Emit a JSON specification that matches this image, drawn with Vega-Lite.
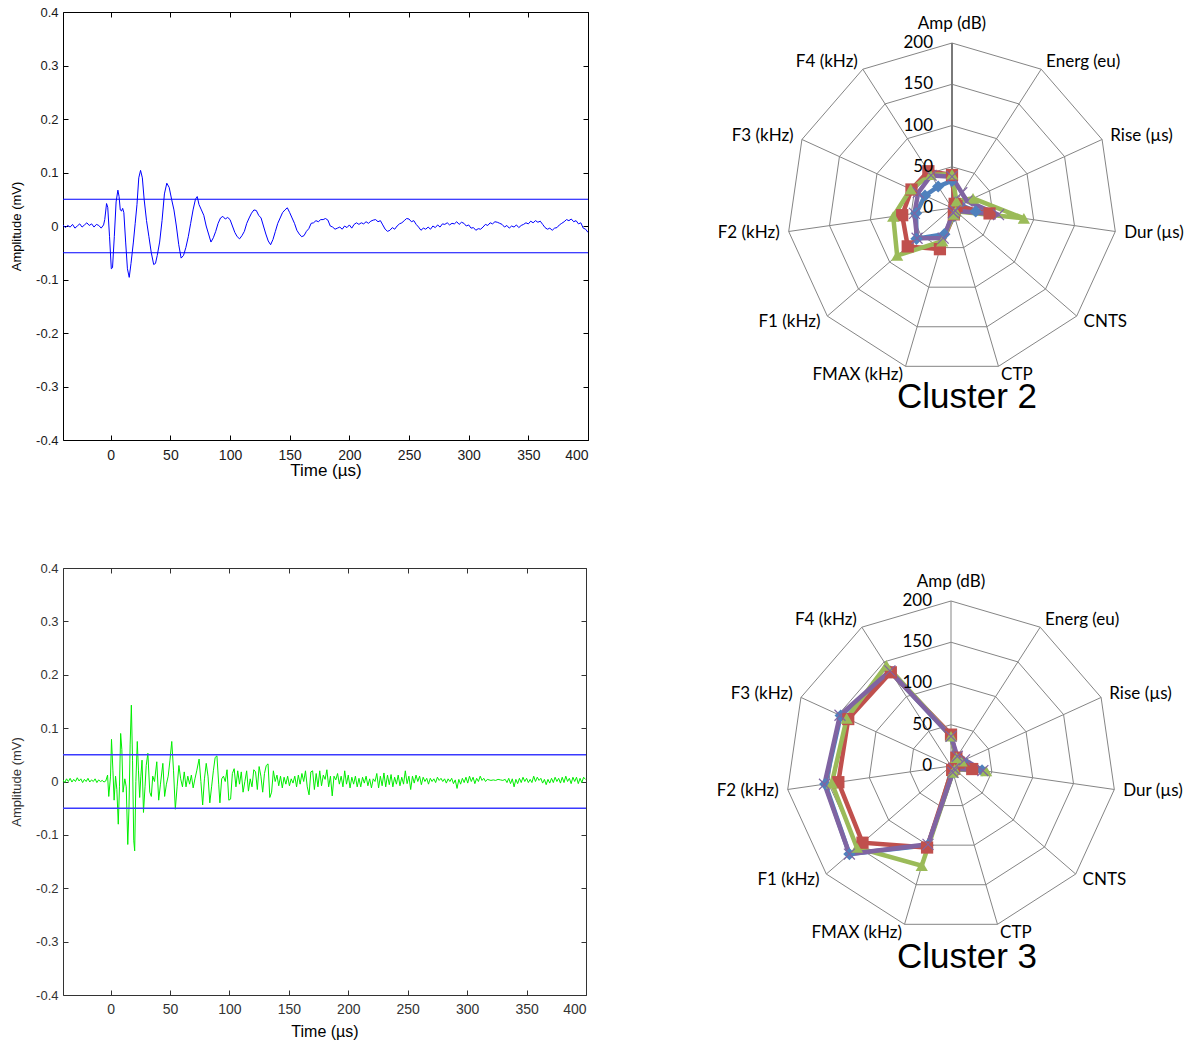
{
  "$schema": "https://vega.github.io/schema/vega-lite/v6.json",
  "background": "white",
  "padding": {"left": 10, "top": 6, "right": 2, "bottom": 2},
  "bounds": "full",
  "spacing": 84,
  "config": {"view": {"stroke": null}, "font": "Liberation Sans"},
  "datasets": {
    "w2": [
      {"t":-40,"a":0.002},{"t":-38,"a":-0.003},{"t":-36,"a":0.001},{"t":-34,"a":-0.002},{"t":-32,"a":0.003},{"t":-30,"a":-0.004},{"t":-28,"a":0.0},{"t":-26,"a":0.004},{"t":-24,"a":-0.002},{"t":-22,"a":0.002},{"t":-20,"a":0.006},{"t":-18,"a":0.001},{"t":-16,"a":0.004},{"t":-14,"a":-0.002},{"t":-12,"a":0.003},{"t":-10,"a":0.001},{"t":-8,"a":-0.004},{"t":-6,"a":0.002},{"t":-5,"a":0.012},{"t":-3.5,"a":0.042},{"t":-2.5,"a":0.035},{"t":-1,"a":-0.02},{"t":0.5,"a":-0.08},{"t":1.5,"a":-0.078},{"t":3,"a":-0.02},{"t":4.5,"a":0.045},{"t":6,"a":0.067},{"t":7,"a":0.055},{"t":8,"a":0.03},{"t":9,"a":0.028},{"t":10,"a":0.033},{"t":11,"a":0.025},{"t":12.5,"a":-0.03},{"t":14,"a":-0.08},{"t":15.5,"a":-0.096},{"t":17,"a":-0.07},{"t":19,"a":-0.03},{"t":20.5,"a":0.005},{"t":22,"a":0.04},{"t":23.5,"a":0.09},{"t":25,"a":0.104},{"t":26.5,"a":0.09},{"t":28,"a":0.05},{"t":30,"a":0.01},{"t":32,"a":-0.02},{"t":34,"a":-0.05},{"t":36,"a":-0.072},{"t":37.5,"a":-0.07},{"t":39,"a":-0.055},{"t":41,"a":-0.03},{"t":43,"a":0.01},{"t":45,"a":0.06},{"t":47,"a":0.08},{"t":49,"a":0.072},{"t":51,"a":0.05},{"t":53,"a":0.03},{"t":55,"a":0.0},{"t":57,"a":-0.035},{"t":59,"a":-0.06},{"t":61,"a":-0.055},{"t":63,"a":-0.04},{"t":65,"a":-0.02},{"t":67,"a":0.005},{"t":69,"a":0.03},{"t":71,"a":0.05},{"t":72.5,"a":0.055},{"t":74,"a":0.04},{"t":76,"a":0.03},{"t":78,"a":0.02},{"t":80,"a":0.0},{"t":82,"a":-0.015},{"t":84,"a":-0.03},{"t":86,"a":-0.022},{"t":88,"a":-0.01},{"t":90,"a":0.005},{"t":92,"a":0.015},{"t":94,"a":0.018},{"t":96,"a":0.013},{"t":98,"a":0.016},{"t":100,"a":0.012},{"t":102,"a":0.0},{"t":104,"a":-0.012},{"t":106,"a":-0.02},{"t":108,"a":-0.024},{"t":110,"a":-0.018},{"t":112,"a":-0.01},{"t":114,"a":0.005},{"t":116,"a":0.015},{"t":118,"a":0.024},{"t":120,"a":0.03},{"t":122,"a":0.029},{"t":124,"a":0.02},{"t":126,"a":0.015},{"t":128,"a":0.0},{"t":130,"a":-0.015},{"t":132,"a":-0.028},{"t":134,"a":-0.035},{"t":136,"a":-0.025},{"t":138,"a":-0.01},{"t":140,"a":0.005},{"t":142,"a":0.015},{"t":144,"a":0.025},{"t":146,"a":0.03},{"t":148,"a":0.034},{"t":150,"a":0.025},{"t":152,"a":0.015},{"t":154,"a":0.005},{"t":156,"a":-0.008},{"t":158,"a":-0.015},{"t":160,"a":-0.02},{"t":162,"a":-0.018},{"t":164,"a":-0.01},{"t":166,"a":-0.005},{"t":168,"a":0.005},{"t":170,"a":0.006},{"t":172,"a":0.01},{"t":174,"a":0.008},{"t":176,"a":0.012},{"t":178,"a":0.012},{"t":180,"a":0.014},{"t":182,"a":0.011},{"t":184,"a":0.0},{"t":186,"a":-0.002},{"t":188,"a":-0.006},{"t":190,"a":-0.004},{"t":192,"a":-0.002},{"t":194,"a":-0.006},{"t":196,"a":0.0},{"t":198,"a":-0.003},{"t":200,"a":0.002},{"t":202,"a":-0.004},{"t":204,"a":0.003},{"t":206,"a":0.006},{"t":208,"a":0.003},{"t":210,"a":0.006},{"t":212,"a":0.004},{"t":214,"a":0.008},{"t":216,"a":0.005},{"t":218,"a":0.009},{"t":220,"a":0.011},{"t":222,"a":0.012},{"t":224,"a":0.008},{"t":226,"a":0.01},{"t":228,"a":0.002},{"t":230,"a":-0.006},{"t":232,"a":-0.01},{"t":234,"a":-0.008},{"t":236,"a":-0.003},{"t":238,"a":-0.006},{"t":240,"a":0.0},{"t":242,"a":0.004},{"t":244,"a":0.006},{"t":246,"a":0.01},{"t":248,"a":0.014},{"t":250,"a":0.013},{"t":252,"a":0.008},{"t":254,"a":0.01},{"t":256,"a":0.003},{"t":258,"a":-0.002},{"t":260,"a":-0.008},{"t":262,"a":-0.004},{"t":264,"a":-0.006},{"t":266,"a":-0.002},{"t":268,"a":-0.006},{"t":270,"a":0.0},{"t":272,"a":-0.003},{"t":274,"a":0.002},{"t":276,"a":-0.002},{"t":278,"a":0.004},{"t":280,"a":0.003},{"t":282,"a":0.006},{"t":284,"a":0.002},{"t":286,"a":0.005},{"t":288,"a":0.004},{"t":290,"a":0.008},{"t":292,"a":0.003},{"t":294,"a":0.007},{"t":296,"a":0.005},{"t":298,"a":0.0},{"t":300,"a":0.002},{"t":302,"a":-0.004},{"t":304,"a":-0.003},{"t":306,"a":-0.008},{"t":308,"a":-0.005},{"t":310,"a":-0.006},{"t":312,"a":-0.002},{"t":314,"a":0.003},{"t":316,"a":0.001},{"t":318,"a":0.006},{"t":320,"a":0.004},{"t":322,"a":0.008},{"t":324,"a":0.007},{"t":326,"a":0.005},{"t":328,"a":0.003},{"t":330,"a":-0.002},{"t":332,"a":0.001},{"t":334,"a":-0.004},{"t":336,"a":0.0},{"t":338,"a":-0.002},{"t":340,"a":0.002},{"t":342,"a":-0.003},{"t":344,"a":0.001},{"t":346,"a":0.003},{"t":348,"a":0.006},{"t":350,"a":0.004},{"t":352,"a":0.009},{"t":354,"a":0.006},{"t":356,"a":0.01},{"t":358,"a":0.007},{"t":360,"a":0.009},{"t":362,"a":0.003},{"t":364,"a":-0.003},{"t":366,"a":-0.006},{"t":368,"a":-0.004},{"t":370,"a":-0.008},{"t":372,"a":-0.004},{"t":374,"a":-0.003},{"t":376,"a":0.002},{"t":378,"a":0.005},{"t":380,"a":0.008},{"t":382,"a":0.012},{"t":384,"a":0.01},{"t":386,"a":0.013},{"t":388,"a":0.008},{"t":390,"a":0.01},{"t":392,"a":0.004},{"t":394,"a":0.006},{"t":396,"a":-0.004},{"t":398,"a":-0.006},{"t":400,"a":-0.012}
    ],
    "w3": [
      {"t":-40,"a":0.003},{"t":-38.5,"a":-0.002},{"t":-37,"a":0.005},{"t":-35.5,"a":0.0},{"t":-34,"a":0.006},{"t":-32.5,"a":-0.001},{"t":-31,"a":0.004},{"t":-29.5,"a":0.0},{"t":-28,"a":0.007},{"t":-26.5,"a":0.001},{"t":-25,"a":0.005},{"t":-23.5,"a":-0.002},{"t":-22,"a":0.004},{"t":-20.5,"a":0.0},{"t":-19,"a":0.006},{"t":-17.5,"a":-0.001},{"t":-16,"a":0.003},{"t":-14.5,"a":0.0},{"t":-13,"a":0.005},{"t":-11.5,"a":-0.002},{"t":-10,"a":0.003},{"t":-8.5,"a":0.0},{"t":-7,"a":0.002},{"t":-5.5,"a":-0.001},{"t":-4,"a":0.001},{"t":-2.5,"a":0.012},{"t":-1.5,"a":-0.028},{"t":0,"a":0.01},{"t":0.8,"a":0.079},{"t":2,"a":0.02},{"t":3,"a":-0.035},{"t":4.2,"a":0.01},{"t":5.3,"a":-0.015},{"t":6.5,"a":-0.08},{"t":7.5,"a":-0.01},{"t":8.5,"a":0.09},{"t":9.5,"a":0.06},{"t":10.5,"a":-0.02},{"t":12,"a":0.005},{"t":13.2,"a":-0.01},{"t":14.5,"a":-0.118},{"t":15.5,"a":-0.05},{"t":16.5,"a":0.07},{"t":17.5,"a":0.143},{"t":18.5,"a":0.04},{"t":19.5,"a":-0.11},{"t":20.3,"a":-0.13},{"t":21.3,"a":0.0},{"t":22.5,"a":0.075},{"t":23.5,"a":0.02},{"t":24.5,"a":-0.03},{"t":25.5,"a":0.01},{"t":26.5,"a":0.04},{"t":27.7,"a":-0.058},{"t":29,"a":-0.01},{"t":30,"a":0.03},{"t":31.4,"a":0.053},{"t":33,"a":-0.02},{"t":34.3,"a":-0.028},{"t":35.5,"a":0.01},{"t":37,"a":0.0},{"t":38.9,"a":0.037},{"t":40.5,"a":-0.035},{"t":42,"a":-0.005},{"t":44,"a":0.034},{"t":45.5,"a":-0.028},{"t":47,"a":-0.005},{"t":48.5,"a":0.01},{"t":50,"a":0.04},{"t":51.5,"a":0.075},{"t":53,"a":0.02},{"t":54.5,"a":-0.052},{"t":56,"a":-0.01},{"t":57.5,"a":0.03},{"t":59,"a":0.005},{"t":60.5,"a":-0.01},{"t":62,"a":0.018},{"t":63.5,"a":-0.01},{"t":65,"a":0.01},{"t":66.5,"a":-0.005},{"t":68,"a":0.012},{"t":69.5,"a":-0.012},{"t":71,"a":0.005},{"t":72.5,"a":0.02},{"t":74.5,"a":0.042},{"t":76,"a":0.0},{"t":77.5,"a":-0.044},{"t":79,"a":0.005},{"t":80.5,"a":0.034},{"t":82,"a":0.01},{"t":83.5,"a":-0.04},{"t":85,"a":-0.01},{"t":86.5,"a":0.02},{"t":88,"a":0.045},{"t":89.5,"a":0.048},{"t":91,"a":-0.005},{"t":92,"a":-0.04},{"t":93.5,"a":0.005},{"t":95,"a":0.01},{"t":96.5,"a":0.0},{"t":98,"a":0.022},{"t":99.5,"a":-0.035},{"t":101,"a":-0.033},{"t":102.5,"a":0.015},{"t":104,"a":0.024},{"t":105.5,"a":-0.01},{"t":107,"a":0.02},{"t":108.5,"a":-0.005},{"t":110,"a":0.018},{"t":111.5,"a":-0.02},{"t":113,"a":0.0},{"t":114.5,"a":0.02},{"t":116,"a":-0.018},{"t":117.5,"a":0.005},{"t":119,"a":-0.01},{"t":120.5,"a":0.022},{"t":122,"a":0.018},{"t":123.5,"a":-0.015},{"t":125,"a":0.028},{"t":126.5,"a":0.01},{"t":128,"a":-0.02},{"t":129.5,"a":0.015},{"t":131,"a":0.03},{"t":132.5,"a":0.033},{"t":134,"a":-0.03},{"t":135.5,"a":-0.02},{"t":137,"a":0.02},{"t":138.5,"a":0.0},{"t":140,"a":0.012},{"t":141.5,"a":-0.008},{"t":143,"a":0.01},{"t":144.5,"a":-0.012},{"t":146,"a":0.008},{"t":147.5,"a":-0.005},{"t":149,"a":0.01},{"t":150.5,"a":-0.008},{"t":152,"a":0.005},{"t":153.5,"a":-0.003},{"t":155,"a":0.01},{"t":156.5,"a":-0.01},{"t":158,"a":0.012},{"t":159.5,"a":-0.005},{"t":161,"a":0.015},{"t":162.5,"a":0.0},{"t":164,"a":0.02},{"t":165.5,"a":-0.01},{"t":167,"a":-0.025},{"t":168.5,"a":0.018},{"t":170,"a":0.02},{"t":171.5,"a":-0.015},{"t":173,"a":0.015},{"t":174.5,"a":-0.01},{"t":176,"a":0.02},{"t":177.5,"a":-0.008},{"t":179,"a":0.012},{"t":180.5,"a":0.004},{"t":182,"a":0.022},{"t":183.5,"a":-0.01},{"t":185,"a":0.01},{"t":186.5,"a":-0.027},{"t":188,"a":0.01},{"t":189.5,"a":0.003},{"t":191,"a":0.015},{"t":192.5,"a":-0.005},{"t":194,"a":0.01},{"t":195.5,"a":-0.01},{"t":197,"a":0.02},{"t":198.5,"a":-0.005},{"t":200,"a":0.012},{"t":201.5,"a":-0.012},{"t":203,"a":0.008},{"t":204.5,"a":-0.005},{"t":206,"a":0.01},{"t":207.5,"a":-0.01},{"t":209,"a":0.006},{"t":210.5,"a":-0.01},{"t":212,"a":0.008},{"t":213.5,"a":-0.003},{"t":215,"a":0.01},{"t":216.5,"a":-0.008},{"t":218,"a":0.005},{"t":219.5,"a":-0.012},{"t":221,"a":0.005},{"t":222.5,"a":0.0},{"t":224,"a":0.015},{"t":225.5,"a":-0.012},{"t":227,"a":0.01},{"t":228.5,"a":-0.008},{"t":230,"a":0.016},{"t":231.5,"a":-0.01},{"t":233,"a":0.012},{"t":234.5,"a":-0.006},{"t":236,"a":0.013},{"t":237.5,"a":-0.01},{"t":239,"a":0.008},{"t":240.5,"a":-0.005},{"t":242,"a":0.012},{"t":243.5,"a":-0.008},{"t":245,"a":0.008},{"t":246.5,"a":-0.005},{"t":248,"a":0.02},{"t":249.5,"a":-0.004},{"t":251,"a":0.01},{"t":252.5,"a":-0.015},{"t":254,"a":0.01},{"t":255.5,"a":-0.003},{"t":257,"a":0.012},{"t":258.5,"a":0.0},{"t":260,"a":0.01},{"t":261.5,"a":-0.006},{"t":263,"a":0.008},{"t":264.5,"a":0.0},{"t":266,"a":0.006},{"t":267.5,"a":-0.005},{"t":269,"a":0.006},{"t":270.5,"a":0.0},{"t":272,"a":0.005},{"t":273.5,"a":-0.002},{"t":275,"a":0.008},{"t":276.5,"a":0.002},{"t":278,"a":0.006},{"t":279.5,"a":0.0},{"t":281,"a":0.005},{"t":282.5,"a":-0.003},{"t":284,"a":0.005},{"t":285.5,"a":0.0},{"t":287,"a":0.006},{"t":288.5,"a":-0.004},{"t":290,"a":0.003},{"t":291.5,"a":-0.013},{"t":293,"a":0.004},{"t":294.5,"a":-0.005},{"t":296,"a":0.006},{"t":297.5,"a":-0.002},{"t":299,"a":0.008},{"t":300.5,"a":-0.003},{"t":302,"a":0.01},{"t":303.5,"a":0.0},{"t":305,"a":0.008},{"t":306.5,"a":-0.004},{"t":308,"a":0.006},{"t":309.5,"a":0.0},{"t":311,"a":0.01},{"t":312.5,"a":0.002},{"t":314,"a":0.006},{"t":315.5,"a":0.0},{"t":317,"a":0.004},{"t":318.5,"a":0.003},{"t":320,"a":0.002},{"t":322,"a":0.003},{"t":324,"a":0.002},{"t":326,"a":0.004},{"t":328,"a":0.003},{"t":330,"a":0.002},{"t":332,"a":0.004},{"t":333.5,"a":-0.002},{"t":335,"a":0.006},{"t":336.5,"a":-0.004},{"t":338,"a":0.005},{"t":339.5,"a":-0.01},{"t":341,"a":0.004},{"t":342.5,"a":-0.004},{"t":344,"a":0.006},{"t":345.5,"a":-0.002},{"t":347,"a":0.008},{"t":348.5,"a":0.0},{"t":350,"a":0.006},{"t":351.5,"a":-0.002},{"t":353,"a":0.004},{"t":354.5,"a":-0.002},{"t":356,"a":0.01},{"t":357.5,"a":0.0},{"t":359,"a":0.008},{"t":360.5,"a":0.002},{"t":362,"a":0.006},{"t":363.5,"a":-0.003},{"t":365,"a":0.004},{"t":366.5,"a":-0.006},{"t":368,"a":0.004},{"t":369.5,"a":-0.003},{"t":371,"a":0.006},{"t":372.5,"a":-0.002},{"t":374,"a":0.008},{"t":375.5,"a":0.0},{"t":377,"a":0.006},{"t":378.5,"a":-0.003},{"t":380,"a":0.008},{"t":381.5,"a":-0.002},{"t":383,"a":0.01},{"t":384.5,"a":0.0},{"t":386,"a":0.006},{"t":387.5,"a":-0.004},{"t":389,"a":0.008},{"t":390.5,"a":0.0},{"t":392,"a":0.008},{"t":393.5,"a":-0.004},{"t":395,"a":0.006},{"t":396.5,"a":-0.002},{"t":398,"a":0.008},{"t":399.5,"a":0.004}
    ],
    "axes": [
      {"k":0,"name":"Amp (dB)"},{"k":1,"name":"Energ (eu)"},{"k":2,"name":"Rise (µs)"},{"k":3,"name":"Dur (µs)"},{"k":4,"name":"CNTS"},{"k":5,"name":"CTP"},{"k":6,"name":"FMAX (kHz)"},{"k":7,"name":"F1 (kHz)"},{"k":8,"name":"F2 (kHz)"},{"k":9,"name":"F3 (kHz)"},{"k":10,"name":"F4 (kHz)"}
    ],
    "rings": [
      {"ring":50,"k":0},{"ring":50,"k":1},{"ring":50,"k":2},{"ring":50,"k":3},{"ring":50,"k":4},{"ring":50,"k":5},{"ring":50,"k":6},{"ring":50,"k":7},{"ring":50,"k":8},{"ring":50,"k":9},{"ring":50,"k":10},
      {"ring":100,"k":0},{"ring":100,"k":1},{"ring":100,"k":2},{"ring":100,"k":3},{"ring":100,"k":4},{"ring":100,"k":5},{"ring":100,"k":6},{"ring":100,"k":7},{"ring":100,"k":8},{"ring":100,"k":9},{"ring":100,"k":10},
      {"ring":150,"k":0},{"ring":150,"k":1},{"ring":150,"k":2},{"ring":150,"k":3},{"ring":150,"k":4},{"ring":150,"k":5},{"ring":150,"k":6},{"ring":150,"k":7},{"ring":150,"k":8},{"ring":150,"k":9},{"ring":150,"k":10},
      {"ring":200,"k":0},{"ring":200,"k":1},{"ring":200,"k":2},{"ring":200,"k":3},{"ring":200,"k":4},{"ring":200,"k":5},{"ring":200,"k":6},{"ring":200,"k":7},{"ring":200,"k":8},{"ring":200,"k":9},{"ring":200,"k":10}
    ],
    "ticks": [{"v":0},{"v":50},{"v":100},{"v":150},{"v":200}],
    "radar": [
      {"c":2,"s":"S1","k":0,"v":33},{"c":2,"s":"S1","k":1,"v":8},{"c":2,"s":"S1","k":2,"v":10},{"c":2,"s":"S1","k":3,"v":29},{"c":2,"s":"S1","k":4,"v":5},{"c":2,"s":"S1","k":5,"v":10},{"c":2,"s":"S1","k":6,"v":33},{"c":2,"s":"S1","k":7,"v":57},{"c":2,"s":"S1","k":8,"v":44},{"c":2,"s":"S1","k":9,"v":36},{"c":2,"s":"S1","k":10,"v":31},
      {"c":2,"s":"S2","k":0,"v":40},{"c":2,"s":"S2","k":1,"v":6},{"c":2,"s":"S2","k":2,"v":6},{"c":2,"s":"S2","k":3,"v":46},{"c":2,"s":"S2","k":4,"v":4},{"c":2,"s":"S2","k":5,"v":8},{"c":2,"s":"S2","k":6,"v":52},{"c":2,"s":"S2","k":7,"v":71},{"c":2,"s":"S2","k":8,"v":61},{"c":2,"s":"S2","k":9,"v":54},{"c":2,"s":"S2","k":10,"v":53},
      {"c":2,"s":"S3","k":0,"v":41},{"c":2,"s":"S3","k":1,"v":10},{"c":2,"s":"S3","k":2,"v":28},{"c":2,"s":"S3","k":3,"v":88},{"c":2,"s":"S3","k":4,"v":6},{"c":2,"s":"S3","k":5,"v":8},{"c":2,"s":"S3","k":6,"v":42},{"c":2,"s":"S3","k":7,"v":88},{"c":2,"s":"S3","k":8,"v":72},{"c":2,"s":"S3","k":9,"v":55},{"c":2,"s":"S3","k":10,"v":48},
      {"c":2,"s":"S4","k":0,"v":38},{"c":2,"s":"S4","k":1,"v":22},{"c":2,"s":"S4","k":2,"v":20},{"c":2,"s":"S4","k":3,"v":57},{"c":2,"s":"S4","k":4,"v":5},{"c":2,"s":"S4","k":5,"v":6},{"c":2,"s":"S4","k":6,"v":38},{"c":2,"s":"S4","k":7,"v":56},{"c":2,"s":"S4","k":8,"v":46},{"c":2,"s":"S4","k":9,"v":45},{"c":2,"s":"S4","k":10,"v":47},
      {"c":3,"s":"S1","k":0,"v":36},{"c":3,"s":"S1","k":1,"v":12},{"c":3,"s":"S1","k":2,"v":15},{"c":3,"s":"S1","k":3,"v":38},{"c":3,"s":"S1","k":4,"v":5},{"c":3,"s":"S1","k":5,"v":8},{"c":3,"s":"S1","k":6,"v":100},{"c":3,"s":"S1","k":7,"v":163},{"c":3,"s":"S1","k":8,"v":154},{"c":3,"s":"S1","k":9,"v":147},{"c":3,"s":"S1","k":10,"v":136},
      {"c":3,"s":"S2","k":0,"v":38},{"c":3,"s":"S2","k":1,"v":12},{"c":3,"s":"S2","k":2,"v":10},{"c":3,"s":"S2","k":3,"v":26},{"c":3,"s":"S2","k":4,"v":5},{"c":3,"s":"S2","k":5,"v":5},{"c":3,"s":"S2","k":6,"v":103},{"c":3,"s":"S2","k":7,"v":142},{"c":3,"s":"S2","k":8,"v":138},{"c":3,"s":"S2","k":9,"v":137},{"c":3,"s":"S2","k":10,"v":135},
      {"c":3,"s":"S3","k":0,"v":36},{"c":3,"s":"S3","k":1,"v":12},{"c":3,"s":"S3","k":2,"v":14},{"c":3,"s":"S3","k":3,"v":43},{"c":3,"s":"S3","k":4,"v":6},{"c":3,"s":"S3","k":5,"v":8},{"c":3,"s":"S3","k":6,"v":126},{"c":3,"s":"S3","k":7,"v":151},{"c":3,"s":"S3","k":8,"v":146},{"c":3,"s":"S3","k":9,"v":139},{"c":3,"s":"S3","k":10,"v":145},
      {"c":3,"s":"S4","k":0,"v":36},{"c":3,"s":"S4","k":1,"v":14},{"c":3,"s":"S4","k":2,"v":18},{"c":3,"s":"S4","k":3,"v":39},{"c":3,"s":"S4","k":4,"v":5},{"c":3,"s":"S4","k":5,"v":8},{"c":3,"s":"S4","k":6,"v":99},{"c":3,"s":"S4","k":7,"v":163},{"c":3,"s":"S4","k":8,"v":155},{"c":3,"s":"S4","k":9,"v":148},{"c":3,"s":"S4","k":10,"v":137}
    ]
  },
  "vconcat": [
    {
      "bounds": "flush",
      "spacing": 111,
      "hconcat": [
        {
          "width": 525,
          "height": 428,
          "resolve": {"axis": {"x": "independent", "y": "independent"}},
          "layer": [
            {
              "data": {"name": "w2"},
              "mark": {"type": "line", "color": "#0000ff", "strokeWidth": 1, "clip": true},
              "encoding": {
                "x": {"field": "t", "type": "quantitative", "scale": {"domain": [-40, 400], "nice": false, "zero": false},
                  "axis": {"orient": "bottom", "values": [0,50,100,150,200,250,300,350,400], "format": "d", "grid": false, "tickSize": -5, "labelPadding": 13, "labelFontSize": 14, "labelColor": "#1a1a1a", "tickColor": "black", "domainColor": "black", "title": "Time (µs)", "titleFontSize": 17, "titleFontWeight": "normal", "titleColor": "black", "titlePadding": 0}},
                "y": {"field": "a", "type": "quantitative", "scale": {"domain": [-0.4, 0.4], "nice": false, "zero": false},
                  "axis": {"orient": "left", "values": [-0.4,-0.3,-0.2,-0.1,0,0.1,0.2,0.3,0.4], "labelExpr": "datum.value == 0 ? '0' : (datum.value < 0 ? '-' : '') + format(abs(datum.value), '.1f')", "grid": false, "tickSize": -5, "labelPadding": 10, "labelFontSize": 13, "labelColor": "#1a1a1a", "tickColor": "black", "domainColor": "black", "title": "Amplitude (mV)", "titleFontSize": 13, "titleFontWeight": "normal", "titleColor": "black", "titlePadding": 12}}
              }
            },
            {
              "data": {"values": [{"thr": 0.05}, {"thr": -0.05}]},
              "mark": {"type": "rule", "color": "#0000ff", "strokeWidth": 1.2},
              "encoding": {
                "y": {"field": "thr", "type": "quantitative", "axis": {"orient": "right", "values": [-0.4,-0.3,-0.2,-0.1,0,0.1,0.2,0.3,0.4], "labels": false, "grid": false, "tickSize": -5, "tickColor": "black", "domainColor": "black", "title": null}},
                "x": {"datum": -40, "type": "quantitative", "axis": {"orient": "top", "values": [0,50,100,150,200,250,300,350,400], "labels": false, "grid": false, "tickSize": -5, "tickColor": "black", "domainColor": "black", "title": null}},
                "x2": {"datum": 400}
              }
            }
          ]
        },
        {
          "width": 490,
          "height": 428,
          "title": {"text": "Cluster 2", "orient": "bottom", "offset": -60, "anchor": "middle", "dx": 23, "fontSize": 35, "font": "Liberation Sans", "fontWeight": "normal", "color": "black"},
          "encoding": {
            "x": {"field": "px", "type": "quantitative", "scale": {"domain": [-306.7, 287.3], "nice": false, "zero": false}, "axis": null},
            "y": {"field": "py", "type": "quantitative", "scale": {"domain": [-281.2, 237.6], "nice": false, "zero": false}, "axis": null}
          },
          "layer": [
            {
              "data": {"name": "rings"},
              "transform": [{"calculate": "datum.ring * sin(datum.k * 2 * PI / 11)", "as": "px"}, {"calculate": "datum.ring * cos(datum.k * 2 * PI / 11)", "as": "py"}],
              "mark": {"type": "line", "interpolate": "linear-closed", "color": "#858585", "strokeWidth": 1},
              "encoding": {"detail": {"field": "ring", "type": "nominal"}, "order": {"field": "k", "type": "quantitative"}}
            },
            {
              "data": {"name": "axes"},
              "transform": [{"calculate": "200 * sin(datum.k * 2 * PI / 11)", "as": "px"}, {"calculate": "200 * cos(datum.k * 2 * PI / 11)", "as": "py"}],
              "mark": {"type": "rule"},
              "encoding": {
                "x": {"datum": 0, "type": "quantitative"},
                "y": {"datum": 0, "type": "quantitative"},
                "x2": {"field": "px"},
                "y2": {"field": "py"},
                "color": {"condition": {"test": "datum.k == 0", "value": "#7a7a7a"}, "value": "#858585"},
                "strokeWidth": {"condition": {"test": "datum.k == 0", "value": 2}, "value": 1}
              }
            },
            {
              "data": {"name": "radar"},
              "transform": [{"filter": "datum.c == 2"}, {"calculate": "datum.v * sin(datum.k * 2 * PI / 11)", "as": "px"}, {"calculate": "datum.v * cos(datum.k * 2 * PI / 11)", "as": "py"}],
              "mark": {"type": "line", "interpolate": "linear-closed", "strokeWidth": 4.5},
              "encoding": {
                "color": {"field": "s", "type": "nominal", "scale": {"domain": ["S1","S2","S3","S4"], "range": ["#4F81BD","#C0504D","#9BBB59","#8064A2"]}, "legend": null},
                "order": {"field": "k", "type": "quantitative"}
              }
            },
            {
              "data": {"name": "radar"},
              "transform": [{"filter": "datum.c == 2 && datum.s != 'S4'"}, {"calculate": "datum.v * sin(datum.k * 2 * PI / 11)", "as": "px"}, {"calculate": "datum.v * cos(datum.k * 2 * PI / 11)", "as": "py"}],
              "mark": {"type": "point", "filled": true, "opacity": 1, "size": 150},
              "encoding": {
                "color": {"field": "s", "type": "nominal", "legend": null},
                "shape": {"field": "s", "type": "nominal", "scale": {"domain": ["S1","S2","S3"], "range": ["diamond","square","triangle-up"]}, "legend": null}
              }
            },
            {
              "data": {"name": "radar"},
              "transform": [{"filter": "datum.c == 2 && datum.s == 'S4'"}, {"calculate": "datum.v * sin(datum.k * 2 * PI / 11)", "as": "px"}, {"calculate": "datum.v * cos(datum.k * 2 * PI / 11)", "as": "py"}],
              "mark": {"type": "point", "shape": "M-1,-1L1,1M-1,1L1,-1", "filled": false, "size": 120, "strokeWidth": 1.2, "color": "#8064A2", "opacity": 1}
            },
            {
              "data": {"name": "axes"},
              "transform": [{"filter": "datum.k == 0"}, {"calculate": "0", "as": "px"}, {"calculate": "200", "as": "py"}],
              "mark": {"type": "text", "font": "Lato", "fontSize": 17, "align": "center", "baseline": "middle", "dy": -19, "color": "black"},
              "encoding": {"text": {"field": "name"}}
            },
            {
              "data": {"name": "axes"},
              "transform": [{"filter": "datum.k >= 1 && datum.k <= 5"}, {"calculate": "211 * sin(datum.k * 2 * PI / 11)", "as": "px"}, {"calculate": "211 * cos(datum.k * 2 * PI / 11)", "as": "py"}],
              "mark": {"type": "text", "font": "Lato", "fontSize": 17, "align": "left", "baseline": "middle", "color": "black"},
              "encoding": {"text": {"field": "name"}}
            },
            {
              "data": {"name": "axes"},
              "transform": [{"filter": "datum.k >= 6"}, {"calculate": "211 * sin(datum.k * 2 * PI / 11)", "as": "px"}, {"calculate": "211 * cos(datum.k * 2 * PI / 11)", "as": "py"}],
              "mark": {"type": "text", "font": "Lato", "fontSize": 17, "align": "right", "baseline": "middle", "color": "black"},
              "encoding": {"text": {"field": "name"}}
            },
            {
              "data": {"name": "ticks"},
              "transform": [{"calculate": "0", "as": "px"}, {"calculate": "datum.v", "as": "py"}],
              "mark": {"type": "text", "font": "Lato", "fontSize": 17, "align": "right", "baseline": "middle", "dx": -19, "color": "black"},
              "encoding": {"text": {"field": "v", "type": "quantitative", "format": "d"}}
            }
          ]
        }
      ]
    },
    {
      "bounds": "flush",
      "spacing": 113,
      "hconcat": [
        {
          "width": 523,
          "height": 427,
          "resolve": {"axis": {"x": "independent", "y": "independent"}},
          "layer": [
            {
              "data": {"name": "w3"},
              "mark": {"type": "line", "color": "#00ee00", "strokeWidth": 1, "clip": true},
              "encoding": {
                "x": {"field": "t", "type": "quantitative", "scale": {"domain": [-40, 400], "nice": false, "zero": false},
                  "axis": {"orient": "bottom", "values": [0,50,100,150,200,250,300,350,400], "format": "d", "grid": false, "tickSize": -5, "labelPadding": 12, "labelFontSize": 14, "labelColor": "#333333", "tickColor": "#333333", "domainColor": "#333333", "title": "Time (µs)", "titleFontSize": 16, "titleFontWeight": "normal", "titleColor": "black", "titlePadding": 7}},
                "y": {"field": "a", "type": "quantitative", "scale": {"domain": [-0.4, 0.4], "nice": false, "zero": false},
                  "axis": {"orient": "left", "values": [-0.4,-0.3,-0.2,-0.1,0,0.1,0.2,0.3,0.4], "labelExpr": "datum.value == 0 ? '0' : (datum.value < 0 ? '-' : '') + format(abs(datum.value), '.1f')", "grid": false, "tickSize": -5, "labelPadding": 10, "labelFontSize": 13, "labelColor": "#333333", "tickColor": "#333333", "domainColor": "#333333", "title": "Amplitude (mV)", "titleFontSize": 13, "titleFontWeight": "normal", "titleColor": "#333333", "titlePadding": 12}}
              }
            },
            {
              "data": {"values": [{"thr": 0.05}, {"thr": -0.05}]},
              "mark": {"type": "rule", "color": "#3a3aff", "strokeWidth": 1.5},
              "encoding": {
                "y": {"field": "thr", "type": "quantitative", "axis": {"orient": "right", "values": [-0.4,-0.3,-0.2,-0.1,0,0.1,0.2,0.3,0.4], "labels": false, "grid": false, "tickSize": -5, "tickColor": "#333333", "domainColor": "#333333", "title": null}},
                "x": {"datum": -40, "type": "quantitative", "axis": {"orient": "top", "values": [0,50,100,150,200,250,300,350,400], "labels": false, "grid": false, "tickSize": -5, "tickColor": "#333333", "domainColor": "#333333", "title": null}},
                "x2": {"datum": 400}
              }
            }
          ]
        },
        {
          "width": 490,
          "height": 427,
          "title": {"text": "Cluster 3", "orient": "bottom", "offset": -55, "anchor": "middle", "dx": 23, "fontSize": 35, "font": "Liberation Sans", "fontWeight": "normal", "color": "black"},
          "encoding": {
            "x": {"field": "px", "type": "quantitative", "scale": {"domain": [-305.5, 288.5], "nice": false, "zero": false}, "axis": null},
            "y": {"field": "py", "type": "quantitative", "scale": {"domain": [-277.6, 240.0], "nice": false, "zero": false}, "axis": null}
          },
          "layer": [
            {
              "data": {"name": "rings"},
              "transform": [{"calculate": "datum.ring * sin(datum.k * 2 * PI / 11)", "as": "px"}, {"calculate": "datum.ring * cos(datum.k * 2 * PI / 11)", "as": "py"}],
              "mark": {"type": "line", "interpolate": "linear-closed", "color": "#858585", "strokeWidth": 1},
              "encoding": {"detail": {"field": "ring", "type": "nominal"}, "order": {"field": "k", "type": "quantitative"}}
            },
            {
              "data": {"name": "axes"},
              "transform": [{"calculate": "200 * sin(datum.k * 2 * PI / 11)", "as": "px"}, {"calculate": "200 * cos(datum.k * 2 * PI / 11)", "as": "py"}],
              "mark": {"type": "rule"},
              "encoding": {
                "x": {"datum": 0, "type": "quantitative"},
                "y": {"datum": 0, "type": "quantitative"},
                "x2": {"field": "px"},
                "y2": {"field": "py"},
                "color": {"value": "#858585"},
                "strokeWidth": {"value": 1}
              }
            },
            {
              "data": {"name": "radar"},
              "transform": [{"filter": "datum.c == 3"}, {"calculate": "datum.v * sin(datum.k * 2 * PI / 11)", "as": "px"}, {"calculate": "datum.v * cos(datum.k * 2 * PI / 11)", "as": "py"}],
              "mark": {"type": "line", "interpolate": "linear-closed", "strokeWidth": 4.5},
              "encoding": {
                "color": {"field": "s", "type": "nominal", "scale": {"domain": ["S1","S2","S3","S4"], "range": ["#4F81BD","#C0504D","#9BBB59","#8064A2"]}, "legend": null},
                "order": {"field": "k", "type": "quantitative"}
              }
            },
            {
              "data": {"name": "radar"},
              "transform": [{"filter": "datum.c == 3 && datum.s != 'S4'"}, {"calculate": "datum.v * sin(datum.k * 2 * PI / 11)", "as": "px"}, {"calculate": "datum.v * cos(datum.k * 2 * PI / 11)", "as": "py"}],
              "mark": {"type": "point", "filled": true, "opacity": 1, "size": 150},
              "encoding": {
                "color": {"field": "s", "type": "nominal", "legend": null},
                "shape": {"field": "s", "type": "nominal", "scale": {"domain": ["S1","S2","S3"], "range": ["diamond","square","triangle-up"]}, "legend": null}
              }
            },
            {
              "data": {"name": "radar"},
              "transform": [{"filter": "datum.c == 3 && datum.s == 'S4'"}, {"calculate": "datum.v * sin(datum.k * 2 * PI / 11)", "as": "px"}, {"calculate": "datum.v * cos(datum.k * 2 * PI / 11)", "as": "py"}],
              "mark": {"type": "point", "shape": "M-1,-1L1,1M-1,1L1,-1", "filled": false, "size": 120, "strokeWidth": 1.2, "color": "#8064A2", "opacity": 1}
            },
            {
              "data": {"name": "axes"},
              "transform": [{"filter": "datum.k == 0"}, {"calculate": "0", "as": "px"}, {"calculate": "200", "as": "py"}],
              "mark": {"type": "text", "font": "Lato", "fontSize": 17, "align": "center", "baseline": "middle", "dy": -19, "color": "black"},
              "encoding": {"text": {"field": "name"}}
            },
            {
              "data": {"name": "axes"},
              "transform": [{"filter": "datum.k >= 1 && datum.k <= 5"}, {"calculate": "211 * sin(datum.k * 2 * PI / 11)", "as": "px"}, {"calculate": "211 * cos(datum.k * 2 * PI / 11)", "as": "py"}],
              "mark": {"type": "text", "font": "Lato", "fontSize": 17, "align": "left", "baseline": "middle", "color": "black"},
              "encoding": {"text": {"field": "name"}}
            },
            {
              "data": {"name": "axes"},
              "transform": [{"filter": "datum.k >= 6"}, {"calculate": "211 * sin(datum.k * 2 * PI / 11)", "as": "px"}, {"calculate": "211 * cos(datum.k * 2 * PI / 11)", "as": "py"}],
              "mark": {"type": "text", "font": "Lato", "fontSize": 17, "align": "right", "baseline": "middle", "color": "black"},
              "encoding": {"text": {"field": "name"}}
            },
            {
              "data": {"name": "ticks"},
              "transform": [{"calculate": "0", "as": "px"}, {"calculate": "datum.v", "as": "py"}],
              "mark": {"type": "text", "font": "Lato", "fontSize": 17, "align": "right", "baseline": "middle", "dx": -19, "color": "black"},
              "encoding": {"text": {"field": "v", "type": "quantitative", "format": "d"}}
            }
          ]
        }
      ]
    }
  ]
}
